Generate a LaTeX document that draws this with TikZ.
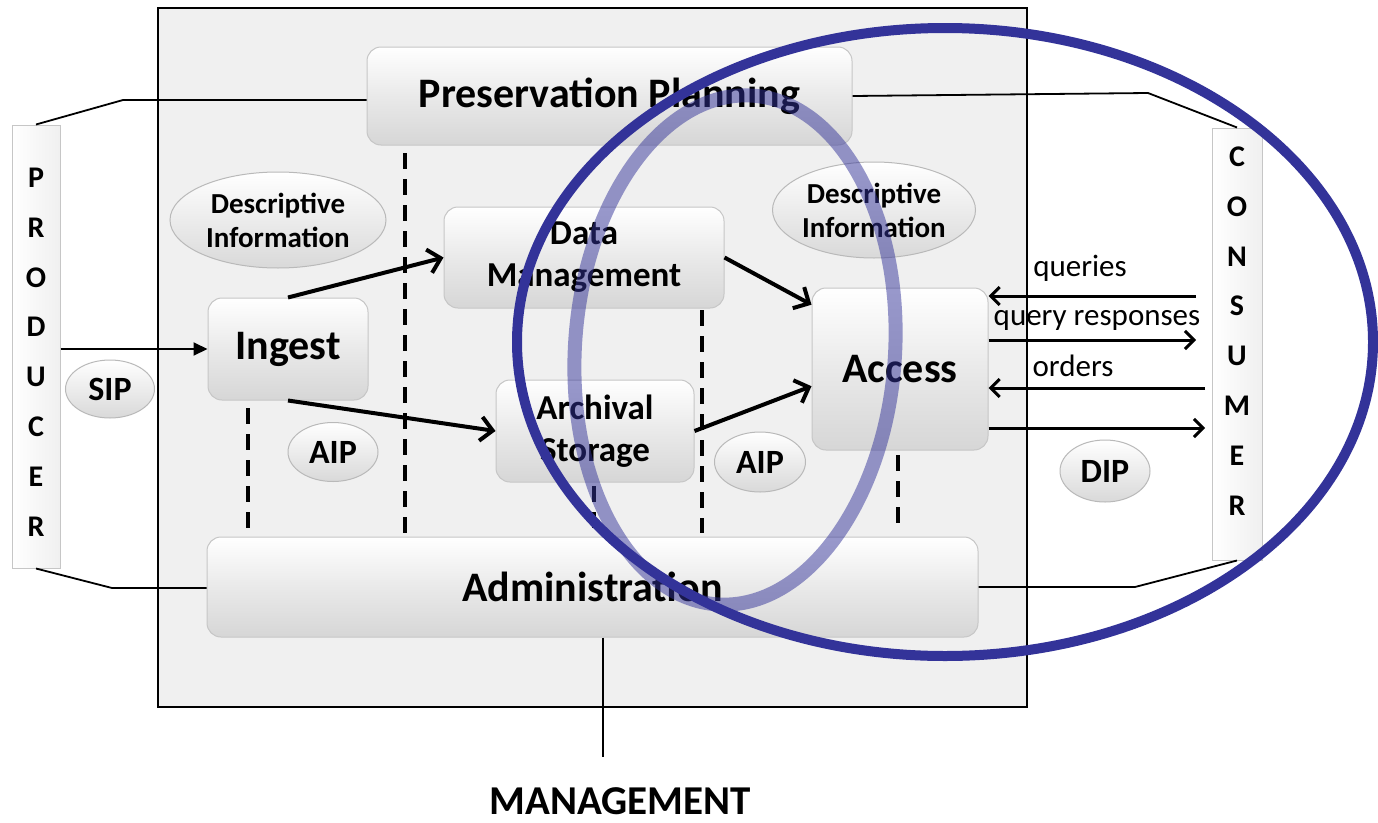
\documentclass[tikz,border=0pt]{standalone}
\usepackage{fontspec}
\setmainfont{Carlito}
\usetikzlibrary{arrows.meta,shapes.geometric,calc}
\definecolor{ovalblue}{RGB}{51,51,153}
\begin{document}
\begin{tikzpicture}[x=1pt,y=-1pt,
  blockbox/.style={draw=gray!45, line width=1pt, rounded corners=14pt, top color=white, bottom color=gray!32, middle color=gray!17, inner sep=2pt, font=\bfseries\fontsize{42}{46}\selectfont},
  midtext/.style={font=\bfseries\fontsize{35}{42}\selectfont, align=center},
  ellnode/.style={ellipse, draw=gray!55, line width=1pt, top color=white, bottom color=gray!30, inner sep=0pt, font=\bfseries\fontsize{34}{38}\selectfont},
  descnode/.style={ellnode, align=center, font=\bfseries\fontsize{29}{34}\selectfont},
  sidebox/.style={draw=gray!45, line width=1pt, left color=white, right color=gray!12, inner sep=0pt},
  sideletters/.style={align=center, inner sep=0pt, font=\bfseries\fontsize{30}{49.8}\selectfont},
  thinline/.style={line width=1.8pt, black},
  arr/.style={line width=4pt, -{Straight Barb[length=12pt,width=24pt]}},
  qarr/.style={line width=3pt, -{Straight Barb[length=9pt,width=18pt]}},
  dashline/.style={line width=3.8pt, dash pattern=on 16pt off 10pt},
  lbl/.style={font=\fontsize{31}{34}\selectfont, inner sep=0pt}
]
\useasboundingbox (0,0) rectangle (1378,822);
\fill[white] (0,0) rectangle (1378,822);

% system frame
\node[draw=black, line width=2pt, fill=black!6, minimum width=869pt, minimum height=699pt, inner sep=0pt] (sys) at (592.5,357.5) {};

% side boxes
\node[sidebox, minimum width=48pt, minimum height=443pt] (prod) at (36,346.5) {};
\node[sideletters] (prodtxt) at (36,352) {P\\R\\O\\D\\U\\C\\E\\R};
\node[sidebox, minimum width=50pt, minimum height=432pt] (cons) at (1237,344) {};
\node[sideletters] (constxt) at (1237,331) {C\\O\\N\\S\\U\\M\\E\\R};

% main blocks
\node[blockbox, minimum width=485pt, minimum height=98pt] (pp) at (609.5,96) {Preservation Planning};
\node[blockbox, minimum width=160pt, minimum height=102pt] (ingest) at (288,349) {Ingest};
\node[blockbox, minimum width=280pt, minimum height=101pt, midtext] (dm) at (584,257.5) {Data\\Management};
\node[blockbox, minimum width=198pt, minimum height=102pt, midtext] (as) at (595,431) {Archival\\Storage};
\node[blockbox, minimum width=176pt, minimum height=162pt] (access) at (900,369) {Access};
\node[blockbox, minimum width=771pt, minimum height=100pt] (admin) at (592.5,587) {Administration};

% ellipses
\node[descnode, minimum width=216pt, minimum height=96pt] (di1) at (278,220) {Descriptive\\Information};
\node[descnode, minimum width=192pt, minimum height=96pt] (di2) at (874,210) {Descriptive\\Information};
\node[ellnode, minimum width=89pt, minimum height=58pt] (sip) at (110,389) {SIP};
\node[ellnode, minimum width=90pt, minimum height=59pt] (aip1) at (333,452) {AIP};
\node[ellnode, minimum width=91pt, minimum height=60pt] (aip2) at (760,462) {AIP};
\node[ellnode, minimum width=90pt, minimum height=62pt] (dip) at (1105,471) {DIP};

% dashed separators
\draw[dashline] (248,408) -- (248,533);
\draw[dashline] (405,153) -- (405,533);
\draw[dashline] (594,486) -- (594,533);
\draw[dashline] (702,310) -- (702,533);
\draw[dashline] (898,455) -- (898,533);

% connecting lines
\coordinate (k1) at (123,100);
\coordinate (k2) at (1148,93);
\coordinate (k3) at (112,588);
\coordinate (k4) at (1135,587);
\coordinate (mg) at (603,757);
\draw[thinline] (prod.north) -- (k1) -- (k1 -| pp.west);
\draw[thinline] (pp.east) -- (k2) -- (cons.north);
\draw[thinline] (prod.south) -- (k3) -- (k3 -| admin.west);
\draw[thinline] (admin.east) -- (k4) -- (cons.south);
\draw[thinline] (mg |- admin.south) -- (mg);
\node[font=\bfseries\fontsize{41}{45}\selectfont, inner sep=0pt] (mgmt) at (620,801) {MANAGEMENT};

% flow arrows
\draw[line width=2pt, -{Triangle[length=14pt,width=13pt]}] (prod.east |- ingest.west) -- (ingest.west);
\draw[arr] (ingest.north) -- (dm.west);
\draw[arr] (ingest.south) -- (as.west);
\draw[arr] (dm.east) -- (access.144);
\draw[arr] (as.east) -- (access.191);

% consumer interface
\coordinate (q1) at (1196,296);
\coordinate (q2) at (1196,340);
\coordinate (q3) at (1205,388);
\coordinate (q4) at (1205,428);
\draw[qarr] (q1) -- (q1 -| access.east);
\draw[qarr] (q2 -| access.east) -- (q2);
\draw[qarr] (q3) -- (q3 -| access.east);
\draw[qarr] (q4 -| access.east) -- (q4);
\node[lbl] (lq) at (1080,268) {queries};
\node[lbl] (lqr) at (1097,320) {query responses};
\node[lbl] (lo) at (1073,366) {orders};

% highlight ovals
\draw[ovalblue, line width=14pt, draw opacity=0.5, rotate around={-4:(735,350)}] (735,350) ellipse [x radius=160, y radius=255];
\draw[ovalblue, line width=10pt] (945,342) ellipse [x radius=428, y radius=314];
\end{tikzpicture}
\end{document}
